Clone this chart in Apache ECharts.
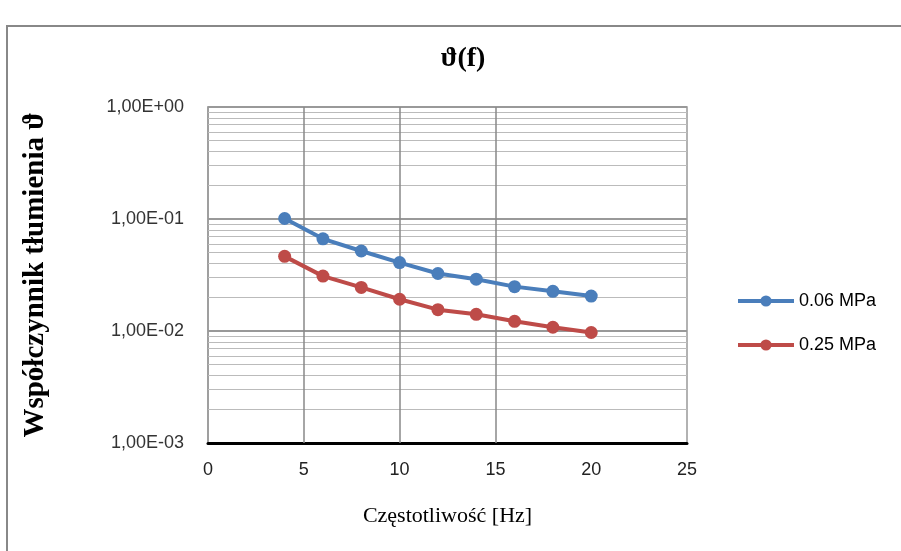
<!DOCTYPE html>
<html><head><meta charset="utf-8">
<script src="https://cdn.jsdelivr.net/npm/echarts@6/dist/echarts.min.js"></script>
<style>html,body{margin:0;padding:0;background:#fff}#c{width:901px;height:551px}</style>
</head><body><div id="c"></div>
<script>
var frequencies = [4, 6, 8, 10, 12, 14, 16, 18, 20];
var seriesNames = ['0.06 MPa', '0.25 MPa'];
var values006 = [0.101, 0.0665, 0.0518, 0.0408, 0.0326, 0.029, 0.0249, 0.0226, 0.0205];
var values025 = [0.0464, 0.0309, 0.0245, 0.0192, 0.0155, 0.0141, 0.0122, 0.0108, 0.0097];
var xGridValues = [5, 10, 15];

var minorY = [];
[-3, -2, -1].forEach(function (k) {
  for (var m = 2; m <= 9; m++) {
    var v = m * Math.pow(10, k);
    minorY.push([{ coord: [0, v] }, { coord: [25, v] }]);
  }
});

function fmt(v) {
  var e = Math.round(Math.log10(v));
  var s = e < 0 ? '-' : '+';
  var a = Math.abs(e);
  return '1,00E' + s + (a < 10 ? '0' : '') + a;
}

var chart = echarts.init(document.getElementById('c'));
chart.setOption({
  animation: false,
  backgroundColor: '#fff',
  title: {
    text: 'ϑ(f)', left: 458, top: 40, textAlign: 'center',
    textStyle: { fontFamily: 'Liberation Serif', fontWeight: 'bold', fontSize: 28, color: '#000' }
  },
  graphic: [{
    type: 'rect', shape: { x: 7, y: 26, width: 1000, height: 1000 },
    style: { fill: 'none', stroke: '#888', lineWidth: 2 }, silent: true
  }],
  legend: {
    orient: 'vertical', left: 731, top: 287, itemGap: 26, itemWidth: 56, itemHeight: 14,
    data: seriesNames,
    lineStyle: { width: 4 },
    textStyle: { fontFamily: 'Liberation Sans', fontSize: 18, color: '#000' }
  },
  grid: { left: 208, right: 214, top: 107, bottom: 108, show: true, borderColor: '#999', borderWidth: 1.5 },
  xAxis: {
    type: 'value', min: 0, max: 25, interval: 5,
    name: 'Częstotliwość [Hz]', nameLocation: 'middle', nameGap: 62,
    nameTextStyle: { fontFamily: 'Liberation Serif', fontSize: 22, color: '#000' },
    axisLine: { lineStyle: { color: '#000', width: 3 } },
    axisTick: { show: false },
    splitLine: { show: false },
    axisLabel: { margin: 18, fontFamily: 'Liberation Sans', fontSize: 18, color: '#222' }
  },
  yAxis: {
    type: 'log', logBase: 10, min: 0.001, max: 1,
    name: 'Współczynnik tłumienia ϑ', nameLocation: 'middle', nameGap: 158,
    nameTextStyle: { fontFamily: 'Liberation Serif', fontWeight: 'bold', fontSize: 29, color: '#000' },
    axisLine: { show: true, lineStyle: { color: '#999', width: 1.5 } },
    axisTick: { show: false },
    splitLine: { show: true, lineStyle: { color: '#999', width: 2 } },
    minorSplitLine: { show: false },
    axisLabel: { margin: 24, fontFamily: 'Liberation Sans', fontSize: 18, color: '#333', formatter: fmt }
  },
  series: [
    {
      name: seriesNames[0], type: 'line', z: 5,
      data: frequencies.map(function (f, i) { return [f, values006[i]]; }),
      symbol: 'circle', symbolSize: 13,
      itemStyle: { color: '#4a7ebb' }, lineStyle: { color: '#4a7ebb', width: 4 },
      markLine: {
        silent: true, symbol: 'none', label: { show: false }, animation: false,
        lineStyle: { color: '#bbb', width: 1, type: 'solid' },
        data: minorY
      }
    },
    {
      name: seriesNames[1], type: 'line', z: 5,
      data: frequencies.map(function (f, i) { return [f, values025[i]]; }),
      symbol: 'circle', symbolSize: 13,
      itemStyle: { color: '#be4b48' }, lineStyle: { color: '#be4b48', width: 4 },
      markLine: {
        silent: true, symbol: 'none', label: { show: false }, animation: false,
        lineStyle: { color: '#888', width: 1.5, type: 'solid' },
        data: xGridValues.map(function (v) { return { xAxis: v }; })
      }
    }
  ]
});
</script></body></html>
